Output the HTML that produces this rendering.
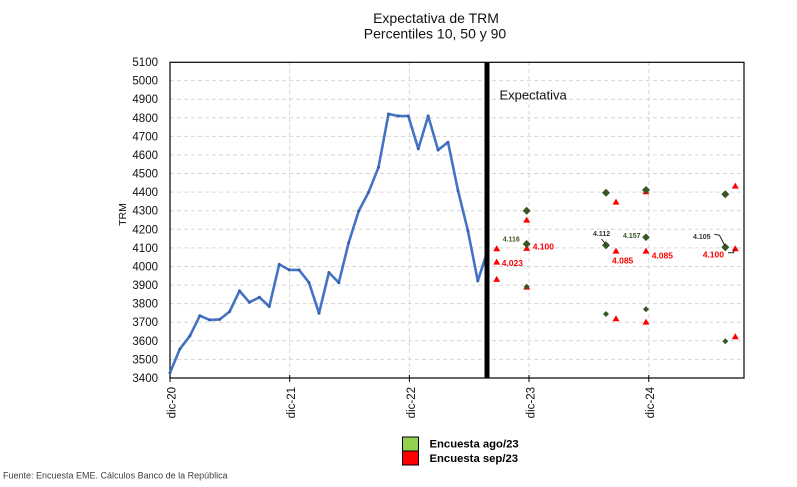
<!DOCTYPE html>
<html><head><meta charset="utf-8"><style>
html,body{margin:0;padding:0;background:#fff;}
svg{display:block;font-family:"Liberation Sans",Arial,sans-serif;}
</style></head><body>
<svg width="797" height="487" viewBox="0 0 797 487" xmlns="http://www.w3.org/2000/svg">
<rect width="797" height="487" fill="#fff"/>
<text x="436" y="23" font-size="14" text-anchor="middle" fill="#111">Expectativa de TRM</text>
<text x="435" y="38.5" font-size="14" text-anchor="middle" fill="#111">Percentiles 10, 50 y 90</text>
<g stroke="#d6d6d6" stroke-width="1" stroke-dasharray="4,3" fill="none">
<line x1="170" y1="80.6" x2="744" y2="80.6"/><line x1="170" y1="99.2" x2="744" y2="99.2"/>
<line x1="170" y1="117.8" x2="744" y2="117.8"/><line x1="170" y1="136.4" x2="744" y2="136.4"/>
<line x1="170" y1="154.9" x2="744" y2="154.9"/><line x1="170" y1="173.5" x2="744" y2="173.5"/>
<line x1="170" y1="192.1" x2="744" y2="192.1"/><line x1="170" y1="210.7" x2="744" y2="210.7"/>
<line x1="170" y1="229.3" x2="744" y2="229.3"/><line x1="170" y1="247.9" x2="744" y2="247.9"/>
<line x1="170" y1="266.5" x2="744" y2="266.5"/><line x1="170" y1="285.1" x2="744" y2="285.1"/>
<line x1="170" y1="303.6" x2="744" y2="303.6"/><line x1="170" y1="322.2" x2="744" y2="322.2"/>
<line x1="170" y1="340.8" x2="744" y2="340.8"/><line x1="170" y1="359.4" x2="744" y2="359.4"/>
<line x1="289.7" y1="62" x2="289.7" y2="378"/><line x1="409.4" y1="62" x2="409.4" y2="378"/>
<line x1="529" y1="62" x2="529" y2="378"/><line x1="648.8" y1="62" x2="648.8" y2="378"/>
</g>
<rect x="170" y="62.3" width="574" height="315.7" fill="none" stroke="#000" stroke-width="1.2"/>
<g stroke="#000" stroke-width="1">
<line x1="170" y1="375" x2="170" y2="382"/><line x1="289.7" y1="375" x2="289.7" y2="382"/>
<line x1="409.4" y1="375" x2="409.4" y2="382"/><line x1="529" y1="375" x2="529" y2="382"/>
<line x1="648.8" y1="375" x2="648.8" y2="382"/>
</g>
<g font-size="11.5" text-anchor="end" fill="#111">
<text x="158" y="66">5100</text><text x="158" y="84.6">5000</text><text x="158" y="103.2">4900</text>
<text x="158" y="121.8">4800</text><text x="158" y="140.4">4700</text><text x="158" y="158.9">4600</text>
<text x="158" y="177.5">4500</text><text x="158" y="196.1">4400</text><text x="158" y="214.7">4300</text>
<text x="158" y="233.3">4200</text><text x="158" y="251.9">4100</text><text x="158" y="270.5">4000</text>
<text x="158" y="289.1">3900</text><text x="158" y="307.6">3800</text><text x="158" y="326.2">3700</text>
<text x="158" y="344.8">3600</text><text x="158" y="363.4">3500</text><text x="158" y="382">3400</text>
</g>
<text transform="translate(126,214.5) rotate(-90)" font-size="10.5" text-anchor="middle" fill="#111">TRM</text>
<g font-size="11.5" text-anchor="end" fill="#111">
<text transform="translate(175.5,387) rotate(-90)">dic-20</text>
<text transform="translate(295,387) rotate(-90)">dic-21</text>
<text transform="translate(414.8,387) rotate(-90)">dic-22</text>
<text transform="translate(534.5,387) rotate(-90)">dic-23</text>
<text transform="translate(654.2,387) rotate(-90)">dic-24</text>
</g>
<text x="499.5" y="99.5" font-size="13" fill="#111">Expectativa</text>
<polyline fill="none" stroke="#4472C4" stroke-width="2.6" stroke-linejoin="round" points="170,372.7 179.9,348.9 189.9,335.9 199.8,315.7 209.7,319.9 219.7,319.4 229.6,311.6 239.5,290.9 249.4,302.3 259.4,297.3 269.3,306.5 279.2,264.4 289.2,269.9 299.1,269.9 309,282.6 319,313.2 328.9,272.5 338.8,282.6 348.7,242.6 358.7,211 368.6,192.2 378.5,167.3 388.5,114 398.4,116 408.3,116 418.3,148.9 428.2,116 438.1,150 448,142.2 458,190.6 467.9,230.7 477.8,280.9 487.8,250"/>
<g fill="#3a5fa8">
<circle cx="170" cy="372.7" r="1.5"/><circle cx="179.9" cy="348.9" r="1.5"/><circle cx="189.9" cy="335.9" r="1.5"/><circle cx="199.8" cy="315.7" r="1.5"/><circle cx="209.7" cy="319.9" r="1.5"/><circle cx="219.7" cy="319.4" r="1.5"/><circle cx="229.6" cy="311.6" r="1.5"/><circle cx="239.5" cy="290.9" r="1.5"/><circle cx="249.4" cy="302.3" r="1.5"/><circle cx="259.4" cy="297.3" r="1.5"/><circle cx="269.3" cy="306.5" r="1.5"/><circle cx="279.2" cy="264.4" r="1.5"/><circle cx="289.2" cy="269.9" r="1.5"/><circle cx="299.1" cy="269.9" r="1.5"/><circle cx="309" cy="282.6" r="1.5"/><circle cx="319" cy="313.2" r="1.5"/><circle cx="328.9" cy="272.5" r="1.5"/><circle cx="338.8" cy="282.6" r="1.5"/><circle cx="348.7" cy="242.6" r="1.5"/><circle cx="358.7" cy="211" r="1.5"/><circle cx="368.6" cy="192.2" r="1.5"/><circle cx="378.5" cy="167.3" r="1.5"/><circle cx="388.5" cy="114" r="1.5"/><circle cx="398.4" cy="116" r="1.5"/><circle cx="408.3" cy="116" r="1.5"/><circle cx="418.3" cy="148.9" r="1.5"/><circle cx="428.2" cy="116" r="1.5"/><circle cx="438.1" cy="150" r="1.5"/><circle cx="448" cy="142.2" r="1.5"/><circle cx="458" cy="190.6" r="1.5"/><circle cx="467.9" cy="230.7" r="1.5"/><circle cx="477.8" cy="280.9" r="1.5"/>
</g>
<rect x="484.5" y="62" width="5" height="316" fill="#000"/>
<!-- red triangles -->
<g fill="#FF0000">
<polygon points="496.7,245.3 500.2,251.3 493.2,251.3"/>
<polygon points="496.7,258.6 500.2,264.6 493.2,264.6"/>
<polygon points="496.7,275.9 500.2,281.9 493.2,281.9"/>
<polygon points="526.7,216.6 530.2,222.6 523.2,222.6"/>
<polygon points="526.7,244.9 530.2,250.9 523.2,250.9"/>
<polygon points="526.7,283.6 530.2,289.6 523.2,289.6"/>
<polygon points="616,198.6 619.5,204.6 612.5,204.6"/>
<polygon points="616,247.6 619.5,253.6 612.5,253.6"/>
<polygon points="616,315.3 619.5,321.3 612.5,321.3"/>
<polygon points="646,188.3 649.5,194.3 642.5,194.3"/>
<polygon points="646,247.6 649.5,253.6 642.5,253.6"/>
<polygon points="646,318.6 649.5,324.6 642.5,324.6"/>
<polygon points="735.3,182.6 738.8,188.6 731.8,188.6"/>
<polygon points="735.3,245.3 738.8,251.3 731.8,251.3"/>
<polygon points="735.3,333.3 738.8,339.3 731.8,339.3"/>
</g>
<!-- green diamonds -->
<g fill="#375623">
<polygon points="526.7,206.7 530.7,210.7 526.7,214.7 522.7,210.7"/>
<polygon points="526.7,240 530.7,244 526.7,248 522.7,244"/>
<polygon points="526.7,283.7 529.7,286.7 526.7,289.7 523.7,286.7"/>
<polygon points="606,188.7 610,192.7 606,196.7 602,192.7"/>
<polygon points="606,241.3 610,245.3 606,249.3 602,245.3"/>
<polygon points="606,311 609,314 606,317 603,314"/>
<polygon points="646,186 650,190 646,194 642,190"/>
<polygon points="646,233.5 649.8,237.3 646,241.1 642.2,237.3"/>
<polygon points="646,306.3 649,309.3 646,312.3 643,309.3"/>
<polygon points="725.3,190.3 729.3,194.3 725.3,198.3 721.3,194.3"/>
<polygon points="725.3,243.3 729.3,247.3 725.3,251.3 721.3,247.3"/>
<polygon points="725.3,338.3 728.3,341.3 725.3,344.3 722.3,341.3"/>
</g>
<g stroke="#222" stroke-width="1" fill="none">
<polyline points="601.5,239 605.5,244"/>
<polyline points="714.5,234.3 719.5,235.3 725,246"/>
<polyline points="728,252.7 733.5,252.7 734.5,249"/>
</g>
<g font-weight="bold" font-size="8.5" fill="#FF0000">
<text x="501.7" y="266">4.023</text>
<text x="532.7" y="249.5">4.100</text>
<text x="612" y="263.5">4.085</text>
<text x="651.7" y="258.5">4.085</text>
<text x="702.7" y="257.5">4.100</text>
</g>
<g font-weight="bold" font-size="7" fill="#375623">
<text x="502.7" y="241.3">4.116</text>
<text x="623" y="238">4.157</text>
</g>
<g font-weight="bold" font-size="7" fill="#333">
<text x="593" y="236">4.112</text>
<text x="693" y="239">4.105</text>
</g>
<rect x="402.5" y="437" width="16" height="14" fill="#92D050" stroke="#000" stroke-width="1"/>
<rect x="402.5" y="451" width="16" height="14" fill="#FF0000" stroke="#000" stroke-width="1"/>
<text x="429.5" y="447.7" font-size="11.3" font-weight="bold" fill="#000">Encuesta ago/23</text>
<text x="429.5" y="462" font-size="11.3" font-weight="bold" fill="#000">Encuesta sep/23</text>
<text x="3" y="478.5" font-size="9" fill="#404040">Fuente: Encuesta EME. Cálculos Banco de la República</text>
</svg>
</body></html>
